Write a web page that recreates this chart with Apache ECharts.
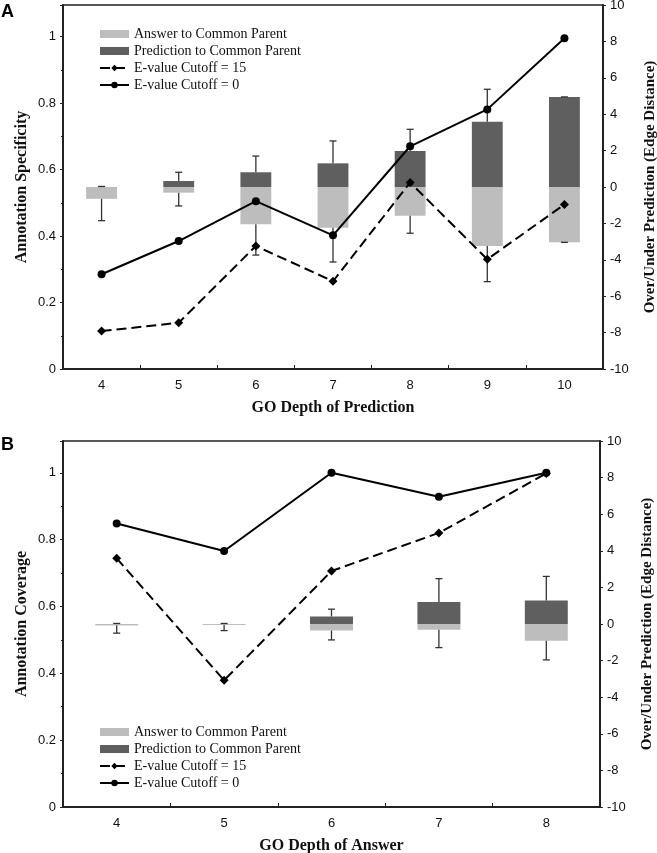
<!DOCTYPE html>
<html><head><meta charset="utf-8">
<script src="https://cdn.jsdelivr.net/npm/echarts@6/dist/echarts.min.js"></script>
<style>html,body{margin:0;padding:0;background:#fff}#c{width:657px;height:853px}</style>
</head><body><div id="c"></div>
<script>
// ---- Panel A data ----
const catsA = ['4','5','6','7','8','9','10'];
const specCut15 = [0.114,0.139,0.370,0.264,0.561,0.330,0.495];
const specCut0  = [0.285,0.385,0.505,0.402,0.670,0.781,0.995];
const answerA   = [-0.65,-0.31,-2.05,-2.24,-1.58,-3.24,-3.04];
const predA     = [0.00,0.33,0.81,1.30,1.98,3.59,4.95];
const answerErrA= [-1.85,-1.04,-3.74,-4.12,-2.54,-5.20,-3.04];
const predErrA  = [0.03,0.81,1.70,2.53,3.17,5.37,4.95];
// ---- Panel B data ----
const catsB = ['4','5','6','7','8'];
const covCut15 = [0.744,0.379,0.706,0.820,0.998];
const covCut0  = [0.848,0.766,1.000,0.928,1.000];
const answerB   = [-0.08,-0.06,-0.36,-0.32,-0.92];
const predB     = [0.00,0.00,0.41,1.20,1.29];
const answerErrB= [-0.50,-0.36,-0.87,-1.29,-1.96];
const predErrB  = [0.03,0.03,0.81,2.48,2.60];
// ---- tick labels / names ----
const leftTicks = [0,0.2,0.4,0.6,0.8,1];
const rightTicks = [-10,-8,-6,-4,-2,0,2,4,6,8,10];
const names = {ans:'Answer to Common Parent', pred:'Prediction to Common Parent', c15:'E-value Cutoff = 15', c0:'E-value Cutoff = 0'};

const LIGHT = '#bdbdbd', DARK = '#5f5f5f';
const serif = 'Liberation Serif, Times New Roman, serif';
const sans = 'Liberation Sans, Arial, sans-serif';

function errData(ends, bars){ return ends.map((e,i)=>[i, bars[i], e]); }
function renderErr(params, api){
  const x = api.value(0);
  const p0 = api.coord([x, api.value(1)]);
  const p1 = api.coord([x, api.value(2)]);
  const st = {stroke:'#333', lineWidth:1.3};
  return {type:'group', children:[
    {type:'line', shape:{x1:p0[0],y1:p0[1],x2:p1[0],y2:p1[1]}, style:st},
    {type:'line', shape:{x1:p1[0]-3.5,y1:p1[1],x2:p1[0]+3.5,y2:p1[1]}, style:st}
  ]};
}
function leftAxis(gi, name){
  return {type:'value', gridIndex:gi, position:'left', min:0, max:1.095, interval:0.2,
    name:name, nameLocation:'middle', nameGap:33, nameRotate:90, nameMoveOverlap:false,
    nameTextStyle:{fontFamily:serif, fontWeight:'bold', fontSize:16, color:'#111'},
    axisLine:{show:true, lineStyle:{color:'#222', width:2}},
    axisTick:{show:true, length:3, lineStyle:{color:'#222'}},
    minorTick:{show:true, splitNumber:2, length:2, lineStyle:{color:'#222'}},
    splitLine:{show:false},
    axisLabel:{showMaxLabel:false, fontFamily:sans, fontSize:13, color:'#111', margin:7,
      formatter:v=>String(v)}};
}
function rightAxis(gi){
  return {type:'value', gridIndex:gi, position:'right', min:-10, max:10, interval:2,
    name:'Over/Under Prediction (Edge Distance)', nameLocation:'middle', nameGap:40, nameRotate:90,
    nameTextStyle:{fontFamily:serif, fontWeight:'bold', fontSize:15, color:'#111'},
    axisLine:{show:true, lineStyle:{color:'#222', width:2}},
    axisTick:{show:true, length:3, lineStyle:{color:'#222'}},
    splitLine:{show:false},
    axisLabel:{fontFamily:sans, fontSize:13, color:'#111', margin:7}};
}
function xAxis(gi, cats, name){
  return {type:'category', gridIndex:gi, data:cats, boundaryGap:true,
    name:name, nameLocation:'middle', nameGap:31,
    nameTextStyle:{fontFamily:serif, fontWeight:'bold', fontSize:16, color:'#111'},
    axisLine:{show:true, lineStyle:{color:'#222', width:2}},
    axisTick:{show:true, length:4, inside:true, lineStyle:{color:'#222'}},
    axisLabel:{fontFamily:sans, fontSize:13, color:'#111', margin:10}};
}
function legend(top){
  return {orient:'vertical', left:94, top:top, itemWidth:29, itemHeight:8, itemGap:3,
    textStyle:{fontFamily:serif, fontSize:14, color:'#111', lineHeight:14},
    selectedMode:false,
    data:[{name:names.ans, icon:'rect'},{name:names.pred, icon:'rect'},{name:names.c15},{name:names.c0}]};
}
function panelSeries(xi, yl, yr, ans, pred, ansE, predE, c15, c0){
  return [
    {name:names.ans, type:'bar', xAxisIndex:xi, yAxisIndex:yr, data:ans, barWidth:'40%', barGap:'-100%',
      itemStyle:{color:LIGHT}, z:2},
    {name:names.pred, type:'bar', xAxisIndex:xi, yAxisIndex:yr, data:pred, barWidth:'40%', barGap:'-100%',
      itemStyle:{color:DARK}, z:2},
    {type:'custom', xAxisIndex:xi, yAxisIndex:yr, data:errData(ansE, ans), renderItem:renderErr, z:3, silent:true,
      encode:{x:0, y:[1,2]}},
    {type:'custom', xAxisIndex:xi, yAxisIndex:yr, data:errData(predE, pred), renderItem:renderErr, z:3, silent:true,
      encode:{x:0, y:[1,2]}},
    {name:names.c15, type:'line', xAxisIndex:xi, yAxisIndex:yl, data:c15, symbol:'diamond', symbolSize:9,
      itemStyle:{color:'#000'}, lineStyle:{color:'#000', width:2, type:[10,5]}, z:5},
    {name:names.c0, type:'line', xAxisIndex:xi, yAxisIndex:yl, data:c0, symbol:'circle', symbolSize:8,
      itemStyle:{color:'#000'}, lineStyle:{color:'#000', width:2}, z:5}
  ];
}
const chart = echarts.init(document.getElementById('c'), null, {renderer:'canvas'});
chart.setOption({
  animation:false,
  backgroundColor:'#fff',
  grid:[
    {left:63, top:5, width:540, height:364, outerBoundsMode:'none', containLabel:false, show:true, borderColor:'#222', borderWidth:1.5, backgroundColor:'transparent'},
    {left:63, top:441, width:537, height:366, outerBoundsMode:'none', containLabel:false, show:true, borderColor:'#222', borderWidth:1.5, backgroundColor:'transparent'}
  ],
  legend:[legend(22), legend(720)],
  xAxis:[xAxis(0, catsA, 'GO Depth of Prediction'), xAxis(1, catsB, 'GO Depth of Answer')],
  yAxis:[leftAxis(0,'Annotation Specificity'), rightAxis(0), leftAxis(1,'Annotation Coverage'), rightAxis(1)],
  series:[].concat(
    panelSeries(0, 0, 1, answerA, predA, answerErrA, predErrA, specCut15, specCut0),
    panelSeries(1, 2, 3, answerB, predB, answerErrB, predErrB, covCut15, covCut0)
  ),
  graphic:[
    {type:'text', left:1, top:3, style:{text:'A', font:'bold 18px Liberation Sans, Arial, sans-serif', fill:'#000'}},
    {type:'text', left:1, top:436, style:{text:'B', font:'bold 18px Liberation Sans, Arial, sans-serif', fill:'#000'}}
  ]
});
</script></body></html>
